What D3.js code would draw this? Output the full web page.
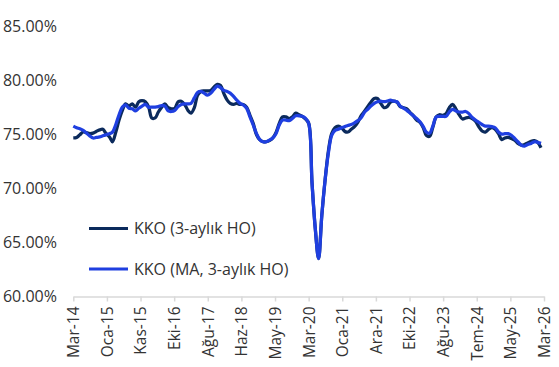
<!DOCTYPE html>
<html>
<head>
<meta charset="utf-8">
<script src="https://cdn.jsdelivr.net/npm/d3@7"></script>
<style>
    body { margin: 0; background: #ffffff; }
    svg { display: block; font-family: "Open Sans", sans-serif; }
</style>
</head>
<body>
<div id="content_svg"></div>
<script>
// serie 1: KKO (3-aylik HO), Mar-14 .. Feb-26
var kko3 = [
    74.65, 74.7, 74.95, 75.2, 75.15, 75.05, 75.1, 75.25, 75.4, 75.45,
    75.05, 74.75, 74.3, 75.2, 76.3, 77.2, 77.8, 77.6, 77.8, 77.5,
    78.0, 78.1, 78.0, 77.5, 76.5, 76.5, 77.05, 77.5, 77.8, 77.45,
    77.35, 77.4, 78.0, 78.05, 77.75, 77.2, 76.95, 77.45, 78.6, 78.95,
    79.0, 79.0, 79.05, 79.35, 79.6, 79.5, 78.75, 78.15, 77.85, 77.75,
    77.85, 77.75, 77.75, 77.5, 76.75, 76.0, 74.95, 74.5, 74.3, 74.3,
    74.4, 74.65, 75.15, 76.0, 76.6, 76.6, 76.45, 76.6, 76.95, 76.8,
    76.65, 76.4, 76.0, 70.5, 66.3, 63.5, 67.5, 70.8, 73.5, 75.05,
    75.6, 75.75, 75.6, 75.25, 75.2, 75.45, 75.7, 76.1, 76.7, 77.1,
    77.55, 77.95, 78.3, 78.3, 77.85, 77.45, 77.55, 77.95, 78.05, 77.95,
    77.55, 77.45, 77.35, 77.0, 76.7, 76.3, 76.1, 75.6, 74.9, 74.8,
    75.65, 76.6, 76.8, 76.75, 76.9, 77.45, 77.75, 77.35, 76.8, 76.4,
    76.5, 76.55, 76.45, 76.2, 75.7, 75.3, 75.2, 75.45, 75.6, 75.45,
    75.05, 74.5, 74.65, 74.7, 74.6, 74.45, 74.15, 74.0, 74.05, 74.2,
    74.35, 74.4, 74.25, 73.75
];

// serie 2: KKO (MA, 3-aylik HO)
var kkoMA = [
    75.75, 75.6, 75.5, 75.35, 75.1, 74.85, 74.65, 74.7, 74.75, 74.85,
    74.95, 75.05, 75.2, 75.9, 76.8, 77.5, 77.7, 77.4, 77.35, 77.15,
    77.4, 77.6, 77.75, 77.5, 77.5, 77.5, 77.55, 77.65, 77.6, 77.15,
    77.1, 77.2, 77.55, 77.75, 77.8, 77.8, 77.85, 78.35, 78.85, 78.95,
    78.8, 78.6, 78.8, 79.15, 79.45, 79.3, 79.05, 78.95, 78.8, 78.5,
    78.15, 77.85, 77.7, 77.4, 76.6, 75.85, 75.05, 74.5, 74.3, 74.3,
    74.45, 74.65, 75.05, 75.85, 76.3, 76.3, 76.25, 76.45, 76.7, 76.7,
    76.65, 76.45, 76.0, 70.5, 66.3, 63.5, 67.5, 70.8, 73.3, 74.9,
    75.35, 75.45, 75.6, 75.7, 75.8, 75.9, 76.05, 76.25, 76.5, 77.0,
    77.3, 77.6, 77.85, 78.0, 78.05, 78.0, 78.05, 78.15, 78.05, 78.0,
    77.6, 77.4, 77.2, 76.95, 76.7, 76.45, 76.15, 75.7, 75.2, 75.1,
    75.75, 76.6, 76.65, 76.65, 76.65, 77.05, 77.3, 77.15, 77.05, 77.05,
    77.1, 76.9, 76.55, 76.3, 76.1, 75.9, 75.75, 75.75, 75.7, 75.6,
    75.2, 75.0, 75.05, 75.05, 74.9, 74.6, 74.3, 74.0, 73.9, 74.05,
    74.15, 74.3, 74.25, 74.15
];

var xLabels = ["Mar-14", "Oca-15", "Kas-15", "Eki-16", "Ağu-17", "Haz-18", "May-19",
    "Mar-20", "Oca-21", "Ara-21", "Eki-22", "Ağu-23", "Tem-24", "May-25", "Mar-26"];
var yTicks = [60, 65, 70, 75, 80, 85];
var seriesNames = ["KKO (3-aylık HO)", "KKO (MA, 3-aylık HO)"];

var W = 559, H = 367;
var colDark = "#0b2a5c";
var colBlue = "#1f3fe0";
var txtCol = "#333333";

var svg = d3.select("#content_svg")
    .append("svg")
    .attr("width", W)
    .attr("height", H);

var fechaIni = new Date(2014, 2, 1);
var fechaFin = new Date(2026, 2, 1);
var fechas = kko3.map(function(d, i) { return d3.timeMonth.offset(fechaIni, i); });

var x = d3.scaleTime()
    .domain([fechaIni, fechaFin])
    .range([73.3, 544]);

var y = d3.scaleLinear()
    .domain([60, 85])
    .range([296.5, 26]);

// eje y, solo etiquetas
svg.append("g")
    .selectAll("text")
    .data(yTicks)
    .join("text")
    .attr("x", 57)
    .attr("y", d => y(d))
    .attr("dy", "0.35em")
    .attr("text-anchor", "end")
    .attr("font-size", 16)
    .attr("fill", txtCol)
    .text(d => d3.format(".2f")(d) + "%");

// eje x: marcas repartidas igual entre inicio y fin
var tickFechas = xLabels.map(function(d, k) {
    return new Date(+fechaIni + k * (fechaFin - fechaIni) / (xLabels.length - 1));
});

var ejeX = d3.axisBottom(x)
    .tickValues(tickFechas)
    .tickFormat((d, k) => xLabels[k])
    .tickSize(5)
    .tickSizeOuter(0);

var gx = svg.append("g")
    .attr("transform", "translate(0," + y(60) + ")")
    .call(ejeX);

gx.select(".domain").attr("stroke", "#d9d9d9").attr("stroke-width", 1.5);
gx.selectAll(".tick line").attr("stroke", "#d9d9d9").attr("stroke-width", 1.5);
gx.selectAll(".tick text")
    .attr("font-family", "Open Sans, sans-serif")
    .attr("font-size", 15.5)
    .attr("fill", txtCol)
    .attr("text-anchor", "end")
    .attr("transform", "rotate(-90)")
    .attr("x", -10)
    .attr("y", 0)
    .attr("dy", "0.35em");

// lineas suavizadas
var linea = d3.line()
    .curve(d3.curveCatmullRom.alpha(0.5))
    .x((d, i) => x(fechas[i]))
    .y(d => y(d));

svg.append("path")
    .datum(kko3)
    .attr("d", linea)
    .attr("fill", "none")
    .attr("stroke", colDark)
    .attr("stroke-width", 3.25)
    .attr("stroke-linejoin", "round");

svg.append("path")
    .datum(kkoMA)
    .attr("d", linea)
    .attr("fill", "none")
    .attr("stroke", colBlue)
    .attr("stroke-width", 3.25)
    .attr("stroke-linejoin", "round");

// leyenda
var leyenda = svg.append("g");
[colDark, colBlue].forEach(function(c, k) {
    var ly = 228.5 + k * 40.5;
    leyenda.append("line")
        .attr("x1", 89).attr("x2", 128)
        .attr("y1", ly).attr("y2", ly)
        .attr("stroke", c)
        .attr("stroke-width", 3);
    leyenda.append("text")
        .attr("x", 134)
        .attr("y", ly)
        .attr("dy", "0.35em")
        .attr("font-size", 16)
        .attr("fill", txtCol)
        .text(seriesNames[k]);
});
</script>
</body>
</html>
